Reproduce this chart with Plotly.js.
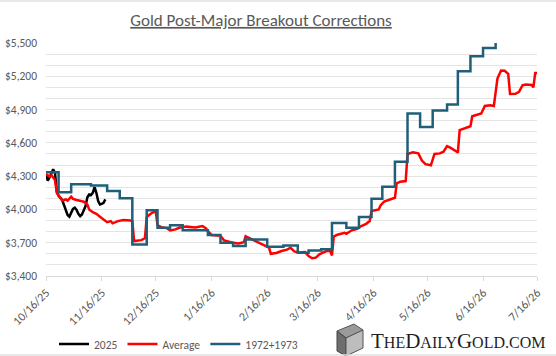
<!DOCTYPE html>
<html>
<head>
<meta charset="utf-8">
<script src="https://cdn.plot.ly/plotly-3.0.1.min.js"></script>
<style>
html,body{margin:0;padding:0;background:#fff;}
#chart{width:556px;height:356px;}
</style>
</head>
<body>
<div id="chart"></div>
<script>
// ---- data ----
const tickDates = ['2025-10-16','2025-11-16','2025-12-16','2026-01-16','2026-02-16','2026-03-16','2026-04-16','2026-05-16','2026-06-16','2026-07-16'];
const tickLabels = ['10/16/25','11/16/25','12/16/25','1/16/26','2/16/26','3/16/26','4/16/26','5/16/26','6/16/26','7/16/26'];

const dates2025 = ['2025-10-16','2025-10-17','2025-10-18','2025-10-19','2025-10-20','2025-10-21','2025-10-22','2025-10-23','2025-10-24','2025-10-25','2025-10-26','2025-10-27','2025-10-28','2025-10-29','2025-10-30','2025-10-31','2025-11-01','2025-11-02','2025-11-03','2025-11-04','2025-11-05','2025-11-06','2025-11-07','2025-11-08','2025-11-09','2025-11-10','2025-11-11','2025-11-12','2025-11-13','2025-11-14','2025-11-15','2025-11-16','2025-11-17','2025-11-18'];
const values2025 = [4315,4260,4290,4330,4362,4330,4160,4122,4105,4085,4040,3995,3950,3935,3975,4005,4015,3995,3960,3940,3955,3995,4030,4110,4135,4130,4150,4200,4150,4075,4045,4050,4060,4090];

const datesAvg = ['2025-10-16','2025-10-18','2025-10-19','2025-10-20','2025-10-21','2025-10-22','2025-10-23','2025-10-24','2025-10-25','2025-10-27','2025-10-28','2025-10-30','2025-10-31','2025-11-02','2025-11-04','2025-11-06','2025-11-08','2025-11-09','2025-11-11','2025-11-13','2025-11-15','2025-11-17','2025-11-19','2025-11-21','2025-11-22','2025-11-25','2025-11-28','2025-12-02','2025-12-03','2025-12-04','2025-12-08','2025-12-10','2025-12-11','2025-12-12','2025-12-14','2025-12-16','2025-12-17','2025-12-19','2025-12-22','2025-12-24','2025-12-27','2025-12-29','2026-01-02','2026-01-07','2026-01-11','2026-01-13','2026-01-14','2026-01-16','2026-01-18','2026-01-21','2026-01-23','2026-01-25','2026-01-28','2026-01-31','2026-02-03','2026-02-04','2026-02-06','2026-02-09','2026-02-12','2026-02-15','2026-02-17','2026-02-18','2026-02-21','2026-02-24','2026-02-27','2026-03-01','2026-03-03','2026-03-06','2026-03-09','2026-03-11','2026-03-13','2026-03-15','2026-03-17','2026-03-19','2026-03-21','2026-03-23','2026-03-24','2026-03-25','2026-03-27','2026-03-31','2026-04-01','2026-04-04','2026-04-07','2026-04-09','2026-04-12','2026-04-14','2026-04-15','2026-04-19','2026-04-20','2026-04-22','2026-04-25','2026-04-28','2026-04-29','2026-05-01','2026-05-04','2026-05-05','2026-05-08','2026-05-11','2026-05-13','2026-05-15','2026-05-18','2026-05-20','2026-05-23','2026-05-25','2026-05-27','2026-05-29','2026-06-01','2026-06-02','2026-06-03','2026-06-06','2026-06-09','2026-06-10','2026-06-13','2026-06-15','2026-06-17','2026-06-20','2026-06-22','2026-06-24','2026-06-26','2026-06-28','2026-06-30','2026-07-01','2026-07-04','2026-07-06','2026-07-08','2026-07-10','2026-07-13','2026-07-14','2026-07-15','2026-07-16'];
const valuesAvg = [4320,4295,4310,4285,4265,4150,4130,4105,4080,4090,4080,4115,4095,4085,4080,4070,4045,4000,3975,3960,3935,3910,3885,3895,3875,3895,3905,3900,3895,3715,3723,3740,3930,3945,3970,3985,3860,3840,3832,3810,3820,3835,3845,3838,3850,3830,3804,3770,3766,3762,3721,3712,3700,3693,3705,3758,3742,3715,3692,3670,3655,3600,3608,3625,3638,3655,3622,3612,3615,3580,3560,3565,3595,3610,3625,3625,3585,3755,3772,3790,3780,3812,3826,3848,3870,3895,3985,4000,4036,4070,4090,4105,4235,4250,4256,4500,4515,4505,4440,4408,4398,4500,4505,4520,4570,4555,4525,4512,4715,4730,4750,4840,4855,4865,4932,4938,4932,5180,5252,5250,5222,5040,5042,5060,5120,5125,5122,5100,5230,5230];

const dates7273 = ['2025-10-16','2025-10-23','2025-10-30','2025-11-10','2025-11-19','2025-11-26','2025-12-03','2025-12-11','2025-12-17','2025-12-24','2025-12-31','2026-01-14','2026-01-21','2026-01-28','2026-02-04','2026-02-16','2026-02-25','2026-03-05','2026-03-11','2026-03-18','2026-03-24','2026-04-01','2026-04-08','2026-04-15','2026-04-21','2026-04-28','2026-05-05','2026-05-12','2026-05-19','2026-05-27','2026-06-02','2026-06-09','2026-06-16','2026-06-23'];
const values7273 = [4335,4155,4228,4215,4165,4100,3685,3993,3835,3858,3813,3770,3700,3670,3730,3664,3676,3610,3630,3640,3878,3835,3931,4096,4204,4429,4864,4744,4891,4945,5245,5380,5455,5500];

const seriesNames = ['2025','Average','1972+1973'];
const seriesColors = ['#000000','#ff0000','#1f5f7a'];

// ---- helpers for placing decoration in pixels ----
const W = 556, H = 356, ML = 46, MR = 19, MT = 43, MB = 80;
const PW = W - ML - MR, PH = H - MT - MB;
const px = x => (x - ML) / PW;
const py = y => (H - MB - y) / PH;

const font = 'Carlito, Calibri, Lato, "Open Sans", sans-serif';

const traces = [
  {x: dates2025, y: values2025, name: seriesNames[0], type: 'scatter', mode: 'lines',
   line: {color: seriesColors[0], width: 2.5}},
  {x: datesAvg, y: valuesAvg, name: seriesNames[1], type: 'scatter', mode: 'lines',
   line: {color: seriesColors[1], width: 2.5}},
  {x: dates7273, y: values7273, name: seriesNames[2], type: 'scatter', mode: 'lines',
   line: {color: seriesColors[2], width: 2.5, shape: 'hv'}}
];

function poly(points) {
  return 'M' + points.map(p => px(p[0]) + ',' + py(p[1])).join(' L') + ' Z';
}

const layout = {
  width: W, height: H,
  margin: {l: ML, r: MR, t: MT, b: MB, autoexpand: false},
  paper_bgcolor: '#ffffff', plot_bgcolor: '#ffffff',
  font: {family: font, size: 11, color: '#595959'},
  title: {
    text: 'Gold Post-Major Breakout Corrections',
    font: {family: font, size: 17, color: '#595959', lineposition: 'under'},
    x: 261 / W, xref: 'container', xanchor: 'center',
    y: 1 - 20 / H, yref: 'container', yanchor: 'middle'
  },
  xaxis: {
    type: 'date',
    range: [tickDates[0], tickDates[tickDates.length - 1]],
    tickmode: 'array', tickvals: tickDates, ticktext: tickLabels,
    tickangle: -45, ticks: 'outside', ticklen: 4, tickcolor: '#d9d9d9',
    showgrid: false, zeroline: false, automargin: false,
    showline: true, linecolor: '#d9d9d9', linewidth: 1,
    tickfont: {family: font, size: 12, color: '#595959'}
  },
  yaxis: {
    range: [3400, 5500], tick0: 3400, dtick: 300,
    tickprefix: '$', tickformat: ',d', automargin: false,
    showgrid: true, gridcolor: '#e4e4e4', gridwidth: 1,
    minor: {tick0: 3400, dtick: 100, showgrid: true, gridcolor: '#e4e4e4', gridwidth: 1},
    zeroline: false, showline: false, ticks: '',
    ticklabelstandoff: 8,
    tickfont: {family: font, size: 11.5, color: '#595959'}
  },
  showlegend: true,
  legend: {
    orientation: 'h', x: px(54), xanchor: 'left', y: py(344), yanchor: 'middle',
    font: {family: font, size: 11.5, color: '#595959'},
    bgcolor: 'rgba(0,0,0,0)', traceorder: 'normal'
  },
  annotations: [{
    text: 'T<span style="font-size:16px">HE</span>D<span style="font-size:16px">AILY</span>G<span style="font-size:16px">OLD</span><span style="font-size:16px">.COM</span>',
    xref: 'paper', yref: 'paper', x: px(458), y: py(341),
    xanchor: 'center', yanchor: 'middle', showarrow: false,
    font: {family: '"Liberation Serif", "DejaVu Serif", serif', size: 21, color: '#1e1e1e'}
  }],
  shapes: [
    {type: 'path', xref: 'paper', yref: 'paper', path: poly([[337,331],[354,324],[363,330],[346,338]]),
     fillcolor: '#9a9a9a', line: {color: '#555555', width: 1}},
    {type: 'path', xref: 'paper', yref: 'paper', path: poly([[337,331],[346,338],[346,356],[337,351]]),
     fillcolor: '#6e6e6e', line: {color: '#444444', width: 1}},
    {type: 'path', xref: 'paper', yref: 'paper', path: poly([[346,338],[363,330],[363,348],[346,356]]),
     fillcolor: '#bdbdbd', line: {color: '#555555', width: 1}},
    {type: 'line', xref: 'paper', yref: 'paper', x0: px(0), x1: px(W), y0: py(1), y1: py(1),
     line: {color: '#e0e0e0', width: 1.5}},
    {type: 'line', xref: 'paper', yref: 'paper', x0: px(0), x1: px(W), y0: py(355), y1: py(355),
     line: {color: '#e0e0e0', width: 1.5}}
  ]
};

Plotly.newPlot('chart', traces, layout, {displayModeBar: false, staticPlot: true});
</script>
</body>
</html>
